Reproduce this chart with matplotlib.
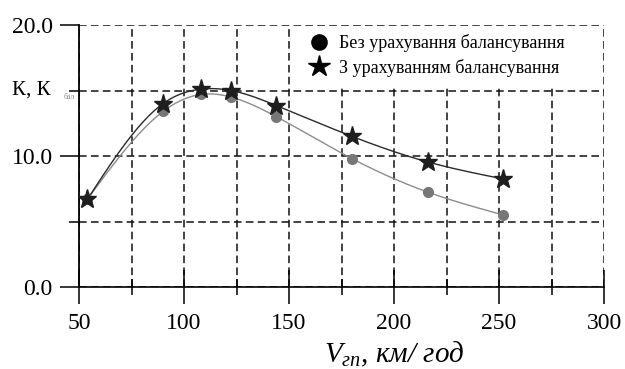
import numpy as np
import matplotlib.pyplot as plt
from matplotlib.patches import Rectangle
from matplotlib.ticker import MultipleLocator, FormatStrFormatter

# speed, km/h
speed = [54, 90, 108, 122.4, 144, 180, 216, 252]
k_plain = [6.7, 13.4, 14.7, 14.5, 13.0, 9.8, 7.25, 5.5]      # без урахування балансування
k_bal = [6.7, 14.0, 15.1, 15.0, 13.85, 11.5, 9.55, 8.25]     # з урахуванням балансування

label_plain = "Без урахування балансування"
label_bal = "З урахуванням балансування"


def smooth(x, y, n=300):
    # natural cubic spline, only for drawing the line through the points
    x = np.asarray(x, float)
    y = np.asarray(y, float)
    m = len(x)
    h = np.diff(x)
    A = np.zeros((m, m))
    b = np.zeros(m)
    A[0, 0] = A[-1, -1] = 1
    for i in range(1, m - 1):
        A[i, i - 1] = h[i - 1]
        A[i, i] = 2 * (h[i - 1] + h[i])
        A[i, i + 1] = h[i]
        b[i] = 6 * ((y[i + 1] - y[i]) / h[i] - (y[i] - y[i - 1]) / h[i - 1])
    M = np.linalg.solve(A, b)
    xs = np.linspace(x[0], x[-1], n)
    idx = np.clip(np.searchsorted(x, xs) - 1, 0, m - 2)
    x0, x1 = x[idx], x[idx + 1]
    hh = x1 - x0
    t0, t1 = x1 - xs, xs - x0
    ys = (M[idx] * t0**3 + M[idx + 1] * t1**3) / (6 * hh) \
        + (y[idx] / hh - M[idx] * hh / 6) * t0 + (y[idx + 1] / hh - M[idx + 1] * hh / 6) * t1
    return xs, ys


plt.rcParams['font.family'] = ['Liberation Serif', 'DejaVu Serif']
plt.rcParams['mathtext.fontset'] = 'custom'
plt.rcParams['mathtext.rm'] = 'Liberation Serif'
plt.rcParams['mathtext.it'] = 'Liberation Serif:italic'

fig = plt.figure(figsize=(6.25, 3.69), dpi=100)
ax = fig.add_axes([0.1264, 0.2222, 0.84, 0.71])

xs, ys = smooth(speed, k_plain)
ax.plot(xs, ys, color='#8c8c8c', lw=1.0, zorder=3)
xs, ys = smooth(speed, k_bal)
ax.plot(xs, ys, color='#2a2a2a', lw=1.0, zorder=3)

ax.plot(speed, k_plain, 'o', color='#777777', ms=7, mec='#777777', zorder=4)
ax.plot(speed, k_bal, '*', color='#1e1e1e', ms=14, mec='#1e1e1e', zorder=5)

ax.set_xlim(50, 300)
ax.set_ylim(0, 20)
ax.xaxis.set_major_locator(MultipleLocator(50))
ax.xaxis.set_minor_locator(MultipleLocator(25))
ax.yaxis.set_major_locator(MultipleLocator(10))
ax.yaxis.set_minor_locator(MultipleLocator(5))
ax.yaxis.set_major_formatter(FormatStrFormatter('%.1f'))

ax.grid(True, which='both', color='#111111', lw=1.1, ls=(0, (5, 2.8)))
ax.set_axisbelow(True)
for s in ['top', 'right']:
    ax.spines[s].set_visible(False)
ax.spines['left'].set_linewidth(1.3)
ax.spines['bottom'].set_linewidth(1.2)

ax.tick_params(axis='x', which='major', direction='inout', length=24, width=1.1, labelsize=17, pad=7)
ax.tick_params(axis='x', which='minor', direction='inout', length=11, width=1.1)
ax.tick_params(axis='y', which='major', direction='out', length=14, width=1.1, labelsize=17, pad=5)
ax.tick_params(axis='y', which='minor', direction='out', length=7, width=1.1)

# y label
ax.text(-0.128, 15, "К, К", transform=ax.get_yaxis_transform(), fontsize=15,
        ha='left', va='center')
ax.text(-0.03, 14.5, "бал", transform=ax.get_yaxis_transform(), fontsize=5.5,
        color='#888888', ha='left', va='center')

ax.set_xlabel(r"$V_{гп}$, км/ год", fontsize=21, style='italic')
ax.xaxis.set_label_coords(0.6, -0.2)

# white area behind the legend
ax.add_patch(Rectangle((0.478, 0.76), 0.505, 0.232, transform=ax.transAxes,
                       facecolor='white', edgecolor='none', zorder=2))

h1, = ax.plot([], [], 'o', color='black', ms=11)
h2, = ax.plot([], [], '*', color='black', ms=16)
leg = ax.legend([h1, h2], [label_plain, label_bal], loc='upper left',
                bbox_to_anchor=(0.425, 0.985), fontsize=13, frameon=False,
                handletextpad=0.45, handlelength=1.3, labelspacing=0.35,
                borderpad=0.3, borderaxespad=0)

fig.savefig('out.png', dpi=100)
